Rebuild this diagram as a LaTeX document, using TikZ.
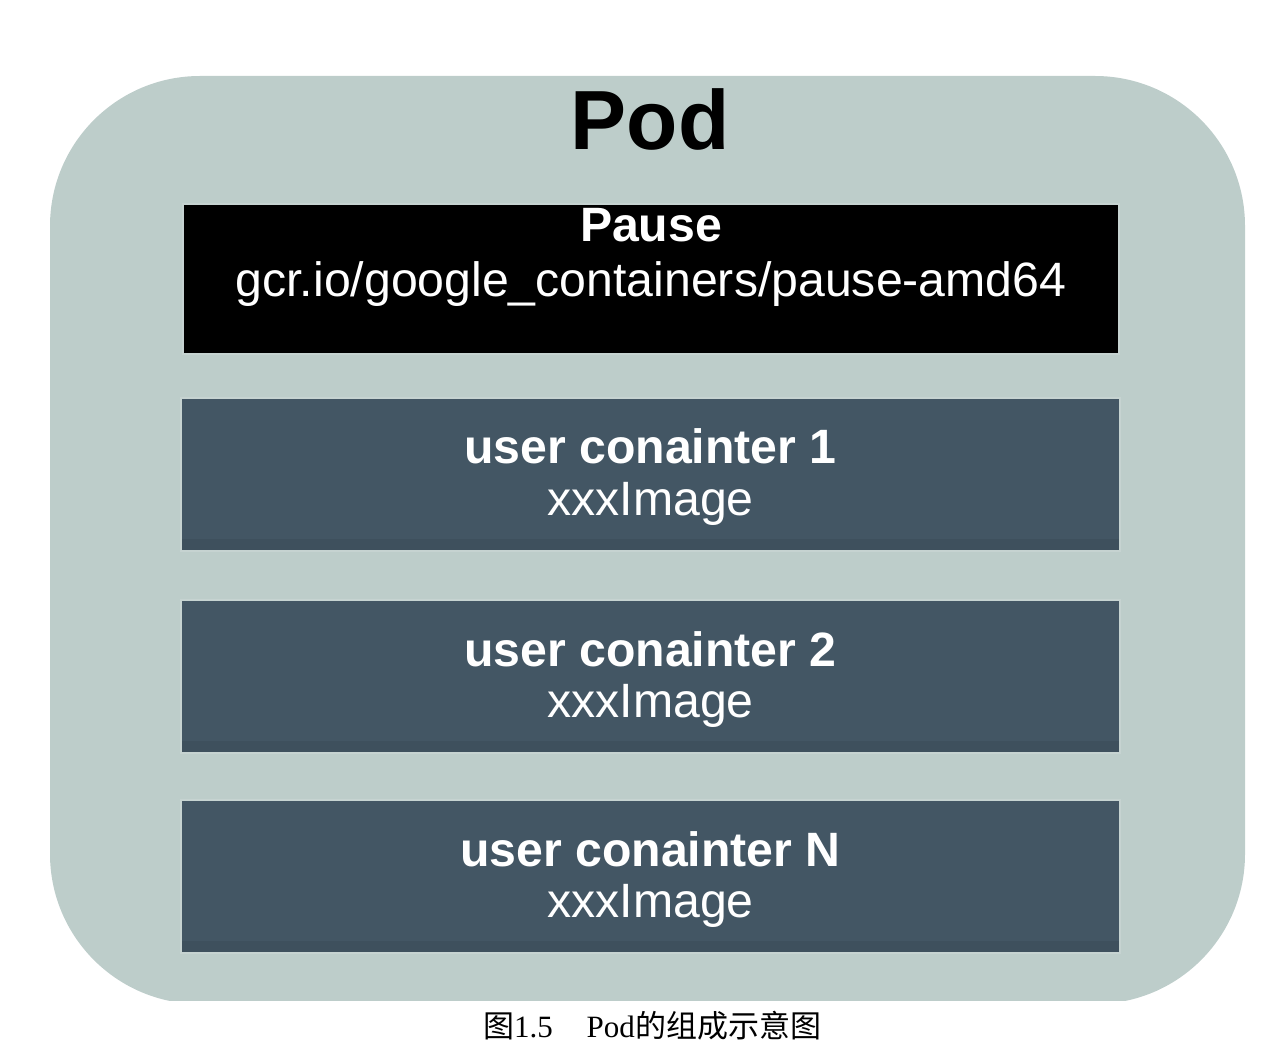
\documentclass[tikz,border=0pt]{standalone}
\usepackage{fontspec}
\setmainfont{Liberation Sans}
\newfontfamily\capserif{Liberation Serif}
\newfontfamily\capcjk{Noto Sans CJK SC}
\begin{document}
\begin{tikzpicture}[x=1pt,y=-1pt,
  pausebox/.style={fill=black, draw=boxedge, line width=1.2pt},
  userbox/.style={fill=slate, draw=boxedge, line width=1.2pt},
  shade/.style={fill=slatedark},
  title/.style={anchor=base, font=\fontsize{84}{84}\selectfont\bfseries, text=black, inner sep=0pt},
  headline/.style={anchor=base, font=\fontsize{48.2}{48}\selectfont\bfseries, text=white, inner sep=0pt},
  subline/.style={anchor=base, font=\fontsize{48.2}{48}\selectfont, text=white, inner sep=0pt},
  caption/.style={anchor=base, font=\fontsize{31}{31}\selectfont, text=black, inner sep=0pt}]
\definecolor{podgray}{HTML}{BDCDCA}
\definecolor{slate}{HTML}{435664}
\definecolor{slatedark}{HTML}{3E505D}
\definecolor{boxedge}{HTML}{C6D3D1}
\useasboundingbox (0,0) rectangle (1288,1064);

% pod outline, cut off flat just above the caption
\begin{scope}
  \clip (0,0) rectangle (1288,1000);
  \fill[podgray, rounded corners=150pt] (50,76) rectangle (1245,1004);
\end{scope}

\node[title] (pod) at (650,150) {Pod};

% pause container
\path[pausebox] (183,204) rectangle (1119,354);
\node[headline] (pausename) at (651,242) {Pause};
\node[subline] (pauseimg) at (651,297) {gcr.io/google\_containers/pause-amd64};

% user containers
\foreach \name/\top/\lbl in {uc1/398/1, uc2/600/2, ucn/800/N}{
  \path[userbox] (181,\top) rectangle (1120,\top+153);
  \fill[shade] (182,\top+141) rectangle (1119,\top+152);
  \node[headline] (\name-title) at (650.5,\top+66) {user conainter \lbl};
  \node[subline] (\name-img) at (650.5,\top+117) {xxxImage};
}

% caption
\node[caption] (cap) at (652,1037) {\capcjk 图\capserif 1.5\hspace{34pt}Pod\capcjk 的组成示意图};
\end{tikzpicture}
\end{document}
